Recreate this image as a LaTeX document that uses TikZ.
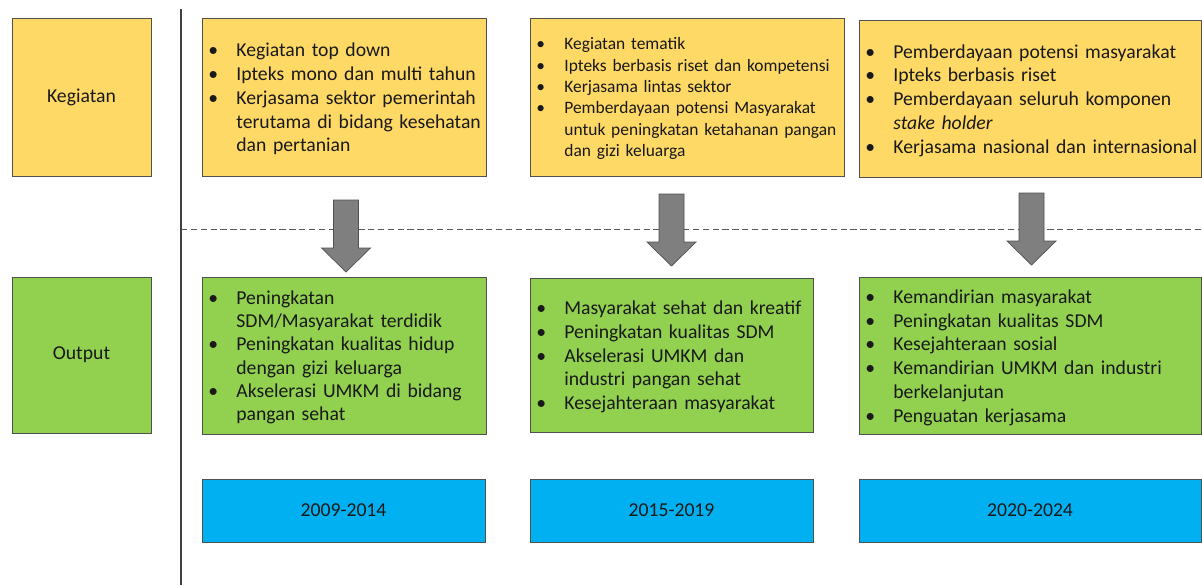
\documentclass[tikz,border=0pt]{standalone}
\usepackage{fontspec}
\setmainfont{Carlito}
\usepackage{xcolor}
\usetikzlibrary{calc}
\definecolor{kegiatanyellow}{RGB}{255,217,102}
\definecolor{outputgreen}{RGB}{146,208,80}
\definecolor{periodeblue}{RGB}{0,176,240}
\definecolor{bordergray}{RGB}{80,80,80}
\definecolor{arrowgray}{RGB}{127,127,127}

\newenvironment{boxlist}{%
  \begin{list}{\textbullet}{%
    \setlength{\leftmargin}{0.64cm}%
    \setlength{\rightmargin}{-0.2cm}%
    \setlength{\labelwidth}{0.4cm}%
    \setlength{\labelsep}{0.3cm}%
    \setlength{\itemsep}{0pt}%
    \setlength{\parsep}{0pt}%
    \setlength{\topsep}{0pt}%
    \setlength{\partopsep}{0pt}%
    \renewcommand{\makelabel}[1]{##1\hfil}}}%
  {\end{list}\par\kern0.15cm}

\newcommand{\blokpanah}[1]{%
  \draw[blockarrow] ($(#1)+(-12.5,0)$) -- ($(#1)+(12.5,0)$) -- ($(#1)+(12.5,48)$)
    -- ($(#1)+(24.5,48)$) -- ($(#1)+(0,72)$) -- ($(#1)+(-24.5,48)$)
    -- ($(#1)+(-12.5,48)$) -- cycle;}

\tikzset{
  box/.style={rectangle, draw=bordergray, line width=0.6pt, inner xsep=0.22cm,
    inner ysep=0pt, text=black!90, font=\fontsize{14}{16.9}\selectfont},
  labelbox/.style={box, minimum width=3.475cm, align=center},
  listbox/.style={box, align=left},
  periodebox/.style={box, fill=periodeblue, minimum height=1.575cm, align=center},
  blockarrow/.style={fill=arrowgray, draw=bordergray, line width=0.5pt, line join=miter},
  sepline/.style={draw=black!75, line width=0.8pt}
}

\begin{document}
\begin{tikzpicture}[x=0.025cm, y=-0.025cm]
  \useasboundingbox (0,0) rectangle (1202,585);

  % garis pemisah
  \draw[sepline] (181,9) -- (181,585);
  \draw[draw=black!65, line width=0.6pt, dash pattern=on 4.5pt off 2.5pt] (181,229) -- (1202,229);

  % kolom label
  \node[labelbox, fill=kegiatanyellow, minimum height=3.95cm] (lblKegiatan) at (81.5,97) {Kegiatan};
  \node[labelbox, fill=outputgreen, minimum height=3.9cm] (lblOutput) at (81.5,355) {Output};

  % kegiatan
  \node[listbox, fill=kegiatanyellow, text width=6.66cm, minimum height=3.95cm] (keg1) at (344,97) {%
    \begin{boxlist}
      \item Kegiatan top down
      \item Ipteks mono dan multi tahun
      \item Kerjasama sektor pemerintah\newline terutama di bidang kesehatan\newline dan pertanian
    \end{boxlist}};
  \node[listbox, fill=kegiatanyellow, text width=7.41cm, minimum height=3.95cm,
    font=\fontsize{12.4}{15.2}\selectfont] (keg2) at (687,97) {%
    \begin{boxlist}
      \item Kegiatan tematik
      \item Ipteks berbasis riset dan kompetensi
      \item Kerjasama lintas sektor
      \item Pemberdayaan potensi Masyarakat\newline untuk peningkatan ketahanan pangan\newline dan gizi keluarga
    \end{boxlist}};
  \node[listbox, fill=kegiatanyellow, text width=8.11cm, minimum height=3.925cm] (keg3) at (1030,98.5) {%
    \begin{boxlist}
      \item Pemberdayaan potensi masyarakat
      \item Ipteks berbasis riset
      \item Pemberdayaan seluruh komponen\newline \textit{stake holder}
      \item Kerjasama nasional dan internasional
    \end{boxlist}};

  % panah
  \coordinate (arr1) at (346,200);
  \coordinate (arr2) at (671.5,194);
  \coordinate (arr3) at (1031.5,193);
  \blokpanah{arr1}
  \blokpanah{arr2}
  \blokpanah{arr3}

  % output
  \node[listbox, fill=outputgreen, text width=6.66cm, minimum height=3.925cm,
    font=\fontsize{14}{16.6}\selectfont] (out1) at (344,355.5) {%
    \begin{boxlist}
      \item Peningkatan\newline SDM/Masyarakat terdidik
      \item Peningkatan kualitas hidup\newline dengan gizi keluarga
      \item Akselerasi UMKM di bidang\newline pangan sehat
    \end{boxlist}};
  \node[listbox, fill=outputgreen, text width=6.635cm, minimum height=3.85cm] (out2) at (671.5,355) {%
    \begin{boxlist}
      \item Masyarakat sehat dan kreatif
      \item Peningkatan kualitas SDM
      \item Akselerasi UMKM dan\newline industri pangan sehat
      \item Kesejahteraan masyarakat
    \end{boxlist}};
  \node[listbox, fill=outputgreen, text width=8.11cm, minimum height=3.925cm] (out3) at (1030,355.5) {%
    \begin{boxlist}
      \item Kemandirian masyarakat
      \item Peningkatan kualitas SDM
      \item Kesejahteraan sosial
      \item Kemandirian UMKM dan industri\newline berkelanjutan
      \item Penguatan kerjasama
    \end{boxlist}};

  % periode
  \node[periodebox, minimum width=7.075cm] (yr1) at (343.5,510.5) {2009-2014};
  \node[periodebox, minimum width=7.075cm] (yr2) at (671.5,510.5) {2015-2019};
  \node[periodebox, minimum width=8.55cm] (yr3) at (1030,510.5) {2020-2024};
\end{tikzpicture}
\end{document}
